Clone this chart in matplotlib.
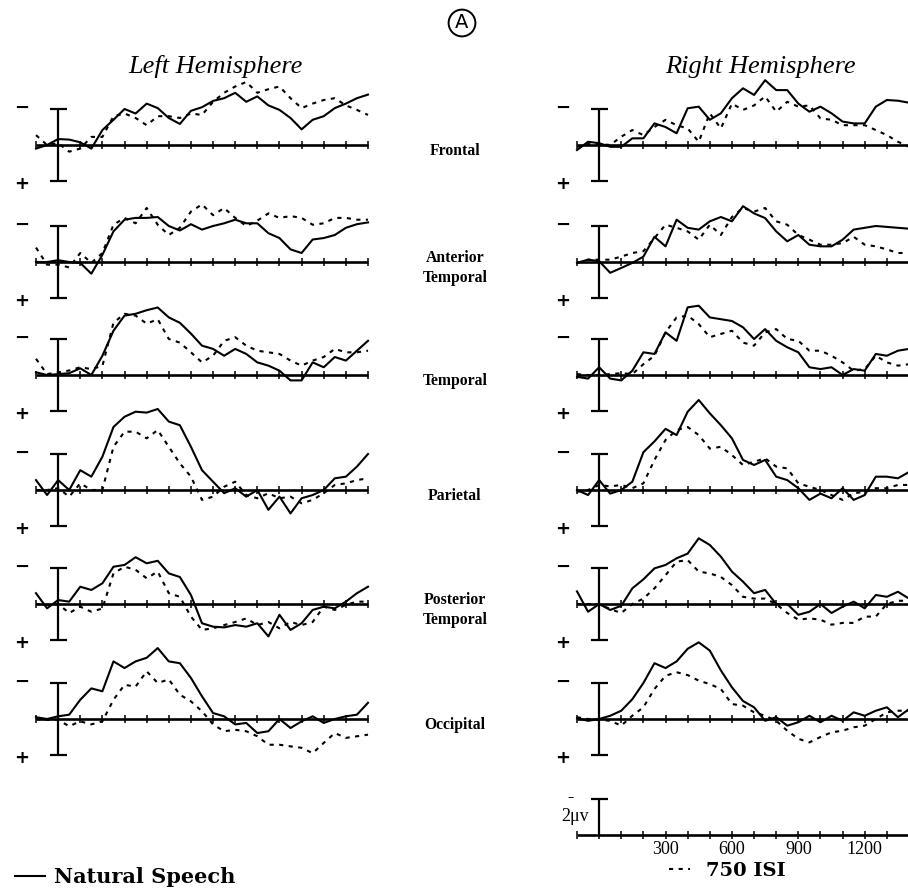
import numpy as np
import matplotlib
matplotlib.use("Agg")
import matplotlib.pyplot as plt
from matplotlib.lines import Line2D

# ---------------- data (µV, negativity plotted upward) ----------------
t = np.arange(-100, 1401, 50)  # ms

regions = ["Frontal", "Anterior\nTemporal", "Temporal", "Parietal",
           "Posterior\nTemporal", "Occipital"]

# Left hemisphere
LF_NAT = [-0.2, 0.0, 0.33, 0.3, 0.15, -0.2, 0.83, 1.4, 2.0, 1.75, 2.3, 2.05, 1.5, 1.17, 1.9, 2.1,
          2.45, 2.6, 2.9, 2.4, 2.7, 2.2, 1.95, 1.5, 0.87, 1.4, 1.6, 2.05, 2.3, 2.6, 2.8]
LF_ISI = [0.55, 0.0, 0.1, -0.37, -0.2, 0.45, 0.45, 1.6, 1.75, 1.5, 1.1, 1.6, 1.6, 1.5, 1.75, 1.67,
          2.4, 2.9, 3.25, 3.5, 2.9, 3.1, 3.25, 2.6, 2.05, 2.3, 2.5, 2.6, 2.2, 1.95, 1.67]
LA_NAT = [0.0, 0.0, 0.1, 0.0, -0.05, -0.65, 0.4, 1.7, 2.35, 2.45, 2.45, 2.5, 2.0, 1.75, 2.1, 1.8,
          2.0, 2.15, 2.35, 2.15, 2.15, 1.6, 1.33, 0.7, 0.5, 1.25, 1.33, 1.5, 1.9, 2.1, 2.2]
LA_ISI = [0.8, -0.15, -0.15, -0.3, 0.5, -0.05, 0.5, 2.07, 2.45, 2.15, 3.0, 2.07, 1.5, 1.9, 2.8, 3.2,
          2.6, 3.0, 2.45, 2.0, 2.3, 2.7, 2.45, 2.55, 2.45, 2.07, 2.15, 2.45, 2.45, 2.35, 2.35]
LT_NAT = [0.15, 0.0, 0.05, 0.1, 0.37, 0.0, 1.07, 2.46, 3.3, 3.4, 3.6, 3.75, 3.2, 2.9, 2.3, 1.63,
          1.45, 1.07, 1.45, 1.17, 0.7, 0.52, 0.24, -0.3, -0.3, 0.7, 0.43, 1.0, 0.8, 1.35, 1.9]
LT_ISI = [0.9, 0.05, 0.15, 0.25, 0.43, 0.33, 0.5, 2.9, 3.4, 3.3, 2.85, 3.1, 2.0, 1.8, 1.26, 0.7,
          1.07, 1.9, 2.1, 1.63, 1.35, 1.26, 1.17, 0.8, 0.52, 0.8, 1.0, 1.45, 1.26, 1.26, 1.35]
LP_NAT = [0.55, -0.28, 0.55, 0.0, 1.1, 0.74, 1.85, 3.5, 4.07, 4.35, 4.3, 4.5, 3.8, 3.6, 2.4, 1.1,
          0.46, -0.18, 0.1, -0.37, 0.0, -1.1, -0.37, -1.3, -0.46, -0.28, 0.0, 0.65, 0.74, 1.3, 2.0]
LP_ISI = [0.0, 0.0, 0.1, -0.37, 0.37, 0.0, 0.0, 2.4, 3.24, 3.24, 2.87, 3.33, 2.4, 1.48, 0.74, -0.55,
          -0.37, 0.18, 0.46, -0.28, -0.46, -0.18, -0.46, -0.37, -0.74, -0.55, -0.18, 0.28, 0.37, 0.55, 0.65]
LPT_NAT = [0.6, -0.24, 0.22, 0.13, 0.96, 0.78, 1.15, 2.07, 2.17, 2.6, 2.26, 2.4, 1.7, 1.5, 0.5, -1.07,
           -1.26, -1.3, -1.17, -1.26, -1.07, -1.8, -0.6, -1.44, -1.07, -0.33, -0.15, -0.24, 0.13, 0.6, 0.96]
LPT_ISI = [0.0, -0.05, 0.0, -0.5, -0.15, -0.43, -0.25, 1.7, 2.07, 1.9, 1.43, 1.8, 0.6, 0.4, -0.7, -1.44,
           -1.35, -1.17, -1.0, -0.8, -1.17, -1.0, -1.35, -1.0, -1.17, -1.0, -0.15, -0.33, -0.05, 0.13, 0.13]
LO_NAT = [0.1, 0.0, 0.15, 0.24, 1.07, 1.7, 1.54, 3.2, 2.83, 3.2, 3.4, 3.94, 3.2, 3.1, 2.28, 1.26,
          0.33, 0.15, -0.3, -0.22, -0.78, -0.68, 0.0, -0.5, -0.13, 0.15, -0.22, 0.0, 0.15, 0.24, 0.9]
LO_ISI = [0.0, -0.05, -0.05, -0.4, -0.13, -0.3, -0.13, 1.07, 1.9, 1.8, 2.65, 2.0, 2.2, 1.35, 0.98, 0.43,
          -0.3, -0.68, -0.6, -0.68, -0.96, -1.43, -1.43, -1.52, -1.6, -1.9, -1.33, -0.78, -1.05, -0.96, -0.87]

# Right hemisphere
RF_NAT = [-0.28, 0.18, 0.1, -0.1, -0.1, 0.37, 0.37, 1.2, 1.0, 0.65, 2.04, 2.13, 1.4, 1.76, 2.6, 3.15,
          2.78, 3.6, 3.05, 3.05, 2.3, 1.85, 2.13, 1.76, 1.3, 1.2, 1.2, 2.13, 2.5, 2.46, 2.35]
RF_ISI = [-0.1, 0.05, 0.05, 0.0, 0.46, 0.83, 0.55, 1.0, 1.4, 1.1, 0.92, 0.18, 1.76, 0.92, 2.3, 1.95,
          2.2, 2.7, 1.85, 2.4, 2.13, 2.2, 1.48, 1.4, 1.1, 1.1, 1.1, 0.83, 0.55, 0.18, -0.1]
RA_NAT = [-0.05, 0.13, 0.05, -0.6, -0.33, -0.05, 0.3, 1.4, 0.87, 2.35, 1.9, 1.8, 2.26, 2.5, 2.26, 3.1,
          2.7, 2.44, 1.7, 1.15, 1.5, 0.96, 0.87, 0.87, 1.24, 1.8, 1.9, 2.0, 1.95, 1.9, 1.85]
RA_ISI = [-0.05, 0.13, 0.13, 0.13, 0.3, 0.5, 0.6, 1.33, 2.07, 1.9, 1.7, 1.24, 2.07, 1.5, 2.5, 3.0,
          2.8, 3.0, 2.26, 2.07, 1.5, 1.24, 0.96, 0.96, 1.05, 1.4, 0.96, 0.87, 0.7, 0.5, 0.5]
RT_NAT = [-0.1, -0.2, 0.43, -0.2, -0.3, 0.24, 1.26, 1.17, 2.37, 1.9, 3.76, 3.85, 3.2, 3.1, 3.0, 2.65,
          2.0, 2.55, 1.9, 1.54, 1.26, 0.43, 0.33, 0.43, 0.0, 0.33, 0.24, 1.17, 1.07, 1.35, 1.45]
RT_ISI = [0.05, 0.0, 0.0, 0.05, 0.1, 0.05, 0.6, 1.07, 2.37, 3.2, 3.3, 2.83, 2.1, 2.28, 2.46, 1.8,
          1.63, 2.37, 2.55, 2.0, 1.9, 1.35, 1.35, 1.07, 0.7, 0.24, 0.33, 1.07, 0.7, 0.52, 0.6]
RP_NAT = [0.0, -0.28, 0.55, -0.2, 0.0, 0.46, 2.1, 2.7, 3.4, 3.05, 4.35, 5.0, 4.26, 3.6, 2.87, 1.67,
          1.39, 1.67, 0.74, 0.55, 0.1, -0.55, -0.2, -0.46, 0.1, -0.55, -0.28, 0.74, 0.74, 0.65, 1.0]
RP_ISI = [-0.1, 0.0, 0.28, 0.2, 0.28, 0.1, 0.37, 1.67, 2.78, 3.33, 3.5, 3.05, 2.3, 2.4, 1.94, 1.39,
          1.57, 1.76, 1.3, 1.2, 0.37, 0.18, 0.0, -0.28, -0.55, -0.18, -0.1, 0.1, 0.1, 0.28, 0.28]
RPT_NAT = [0.7, -0.43, 0.0, -0.33, -0.1, 0.87, 1.37, 1.98, 2.17, 2.54, 2.8, 3.65, 3.28, 2.63, 1.8, 1.24,
           0.6, 0.78, 0.0, 0.0, -0.6, -0.43, 0.0, -0.5, -0.15, 0.13, -0.24, 0.5, 0.4, 0.68, 0.3]
RPT_ISI = [0.0, 0.0, 0.0, -0.28, -0.5, 0.0, 0.3, 0.87, 1.6, 2.35, 2.44, 1.8, 1.7, 1.5, 1.05, 0.4,
           0.3, 0.3, 0.0, -0.5, -0.87, -0.8, -0.87, -1.15, -1.05, -1.05, -0.7, -0.7, 0.0, 0.18, 0.18]
RO_NAT = [0.04, -0.1, 0.0, 0.18, 0.46, 1.1, 2.0, 3.1, 2.83, 3.2, 3.9, 4.26, 3.8, 2.7, 1.76, 1.0,
          0.65, -0.1, 0.1, -0.37, -0.18, 0.18, -0.18, 0.18, -0.1, 0.37, 0.18, 0.46, 0.65, 0.1, 0.55]
RO_ISI = [0.1, 0.0, -0.04, -0.1, -0.37, 0.18, 0.65, 1.67, 2.4, 2.6, 2.44, 2.13, 1.94, 1.67, 0.83, 0.74,
          0.37, 0.18, -0.1, -0.65, -1.1, -1.3, -1.0, -0.74, -0.65, -0.46, -0.37, 0.0, 0.37, 0.46, 0.46]

scale_ticks = [300, 600, 900, 1200]
scale_uv = 2
legend_labels = ["Natural Speech", "750 ISI"]
titles = ["Left Hemisphere", "Right Hemisphere"]

left_nat = [LF_NAT, LA_NAT, LT_NAT, LP_NAT, LPT_NAT, LO_NAT]
left_isi = [LF_ISI, LA_ISI, LT_ISI, LP_ISI, LPT_ISI, LO_ISI]
right_nat = [RF_NAT, RA_NAT, RT_NAT, RP_NAT, RPT_NAT, RO_NAT]
right_isi = [RF_ISI, RA_ISI, RT_ISI, RP_ISI, RPT_ISI, RO_ISI]

# ---------------- layout ----------------
W, H = 908, 896
fig = plt.figure(figsize=(W / 100, H / 100), dpi=100)
fig.patch.set_facecolor("white")

PX_PER_UV = 18.0
Y_LO, Y_HI = -3.0, 5.5
baselines = [145, 262, 375, 490, 604, 719]
left_x0, right_x0, span_px = 36, 577, 332
SERIF = "Liberation Serif"
WIDE_SERIF = "DejaVu Serif"
DASH = (0, (2.0, 2.6))


def make_axes(x0, base):
    bottom = 1 - (base + (-Y_LO) * PX_PER_UV) / H
    height = (Y_HI - Y_LO) * PX_PER_UV / H
    ax = fig.add_axes([x0 / W, bottom, span_px / W, height])
    ax.set_xlim(-100, 1400)
    ax.set_ylim(Y_LO, Y_HI)
    ax.axis("off")
    ax.patch.set_alpha(0)
    return ax


def draw_frame(ax, full_bar=True):
    ax.plot([-100, 1400], [0, 0], color="black", lw=1.9, solid_capstyle="butt", clip_on=False)
    ticks = np.arange(-100, 1401, 100)
    ax.vlines(ticks, -0.22, 0.22, color="black", lw=1.1, clip_on=False)
    lo = -scale_uv if full_bar else 0
    ax.vlines(0, lo, scale_uv, color="black", lw=1.6, clip_on=False)
    ax.hlines(scale_uv, -38, 38, color="black", lw=1.6, clip_on=False)
    if full_bar:
        ax.hlines(-scale_uv, -38, 38, color="black", lw=1.6, clip_on=False)


for side, (x0, nat, isi) in enumerate([(left_x0, left_nat, left_isi),
                                       (right_x0, right_nat, right_isi)]):
    for r in range(6):
        ax = make_axes(x0, baselines[r])
        draw_frame(ax)
        ax.plot(t, nat[r], color="black", lw=1.5, solid_joinstyle="round", clip_on=False)
        ax.plot(t, isi[r], color="black", lw=1.5, linestyle=DASH, clip_on=False)
        ax.text(-163, 2.05, "\u2212", ha="center", va="center", fontsize=13,
                fontweight="bold", clip_on=False)
        ax.text(-163, -2.15, "+", ha="center", va="center", fontsize=13,
                fontweight="bold", clip_on=False)

# region labels in centre
for r, name in enumerate(regions):
    fig.text(455 / W, 1 - (baselines[r] + 6) / H, name, ha="center", va="center",
             fontsize=11.3, fontweight="bold", family=SERIF, linespacing=1.35)

# titles
fig.text(216 / W, 1 - 67 / H, titles[0], ha="center", va="center", fontsize=19,
         style="italic", family=SERIF)
fig.text(760 / W, 1 - 67 / H, titles[1], ha="center", va="center", fontsize=19,
         style="italic", family=SERIF)

# circled A
fig.text(462 / W, 1 - 23 / H, "A", ha="center", va="center", fontsize=14,
         bbox=dict(boxstyle="circle,pad=0.2", fc="white", ec="black", lw=1.4))

# scale panel
sax = make_axes(right_x0, 835)
draw_frame(sax, full_bar=False)
for tk in scale_ticks:
    sax.text(tk, -0.8, str(tk), ha="center", va="center", fontsize=13, family=SERIF,
             clip_on=False)
sax.text(-45, 1.05, "2\u03bcv", ha="right", va="center", fontsize=13, family=SERIF,
         clip_on=False)
sax.text(-130, 2.1, "\u2013", ha="center", va="center", fontsize=9, clip_on=False)

# legends
leg1 = fig.legend(handles=[Line2D([], [], color="black", lw=1.5)], labels=[legend_labels[0]],
                  loc="center left", bbox_to_anchor=(0.0, 1 - 877 / H), frameon=False,
                  handlelength=1.45, handletextpad=0.45, borderaxespad=0.3,
                  prop=dict(family=WIDE_SERIF, weight="bold", size=15))
leg2 = fig.legend(handles=[Line2D([], [], color="black", lw=1.5, linestyle=DASH)],
                  labels=[legend_labels[1]],
                  loc="center left", bbox_to_anchor=(655 / W, 1 - 871 / H), frameon=False,
                  handlelength=1.1, handletextpad=0.8, borderaxespad=0.3,
                  prop=dict(family=WIDE_SERIF, weight="bold", size=14))

fig.savefig("out.png", dpi=100, facecolor="white")
